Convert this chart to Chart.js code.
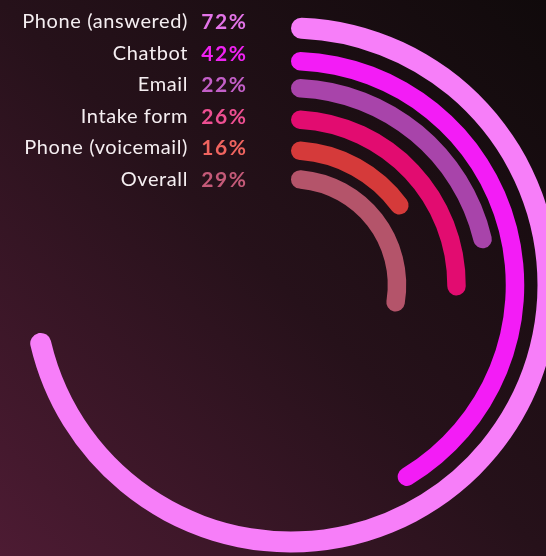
<!DOCTYPE html>
<html>
<head>
<meta charset="utf-8">
<script src="https://cdn.jsdelivr.net/npm/chart.js@4.4.1/dist/chart.umd.min.js"></script>
<style>
  html, body { margin: 0; padding: 0; width: 546px; height: 556px; overflow: hidden; }
  body {
    position: relative;
    background: linear-gradient(to bottom left, #100a0b 0%, #26111a 50%, #4d1b33 100%);
    font-family: Lato, "Open Sans", sans-serif;
  }
  #chart { position: absolute; left: 0; top: 0; }
  .col { position: absolute; top: 5px; left: 0; text-align: right; line-height: 31.6px; white-space: nowrap; }
  #names { width: 188px; color: #f5eef1; font-size: 20px; letter-spacing: 0.6px; }
  #pcts { width: 247.5px; font-size: 21px; font-weight: 700; letter-spacing: 1.6px; }
</style>
</head>
<body>
<canvas id="chart" width="546" height="556"></canvas>
<div id="names" class="col"></div>
<div id="pcts" class="col"></div>
<script>
// outer ring first
var channels = ['Phone (answered)', 'Chatbot', 'Email', 'Intake form', 'Phone (voicemail)', 'Overall'];
var rates = [72, 42, 22, 26, 16, 29];
var ringColors = ['#f77ef9', '#f31cf6', '#a844aa', '#e20c70', '#d53a3a', '#b4546a'];
var pctColors = ['#e374e8', '#f022f2', '#c35fc8', '#ee4f92', '#f0645f', '#c45a78'];

// ring thickness and the empty space between rings, in px
var ringWidth = [21, 18.5, 18.5, 18.5, 18.5, 18.5];
var gapWidth = [13.25, 8.5, 13, 12.5, 10];

var datasets = [];
channels.forEach(function(name, i) {
    if (i > 0) {
        datasets.push({ data: [1], backgroundColor: ['rgba(0,0,0,0)'], weight: gapWidth[i - 1] });
    }
    datasets.push({
        label: name,
        data: [rates[i], 100 - rates[i]],
        backgroundColor: [ringColors[i], 'rgba(0,0,0,0)'],
        weight: ringWidth[i],
        borderRadius: 20
    });
});

var ctx = document.getElementById('chart');
new Chart(ctx, {
    type: 'doughnut',
    data: { labels: ['rate', 'rest'], datasets: datasets },
    options: {
        responsive: false,
        animation: false,
        events: [],
        radius: 267.5,
        cutout: (96.75 / 267.5 * 100) + '%',
        borderWidth: 0,
        layout: { padding: { left: 36, top: 14, right: 0, bottom: 0 } },
        plugins: { legend: { display: false }, tooltip: { enabled: false } }
    }
});

var names = document.getElementById('names');
var pcts = document.getElementById('pcts');
channels.forEach(function(name, i) {
    var a = document.createElement('div');
    a.textContent = name;
    names.appendChild(a);
    var b = document.createElement('div');
    b.textContent = rates[i] + '%';
    b.style.color = pctColors[i];
    pcts.appendChild(b);
});
</script>
</body>
</html>
